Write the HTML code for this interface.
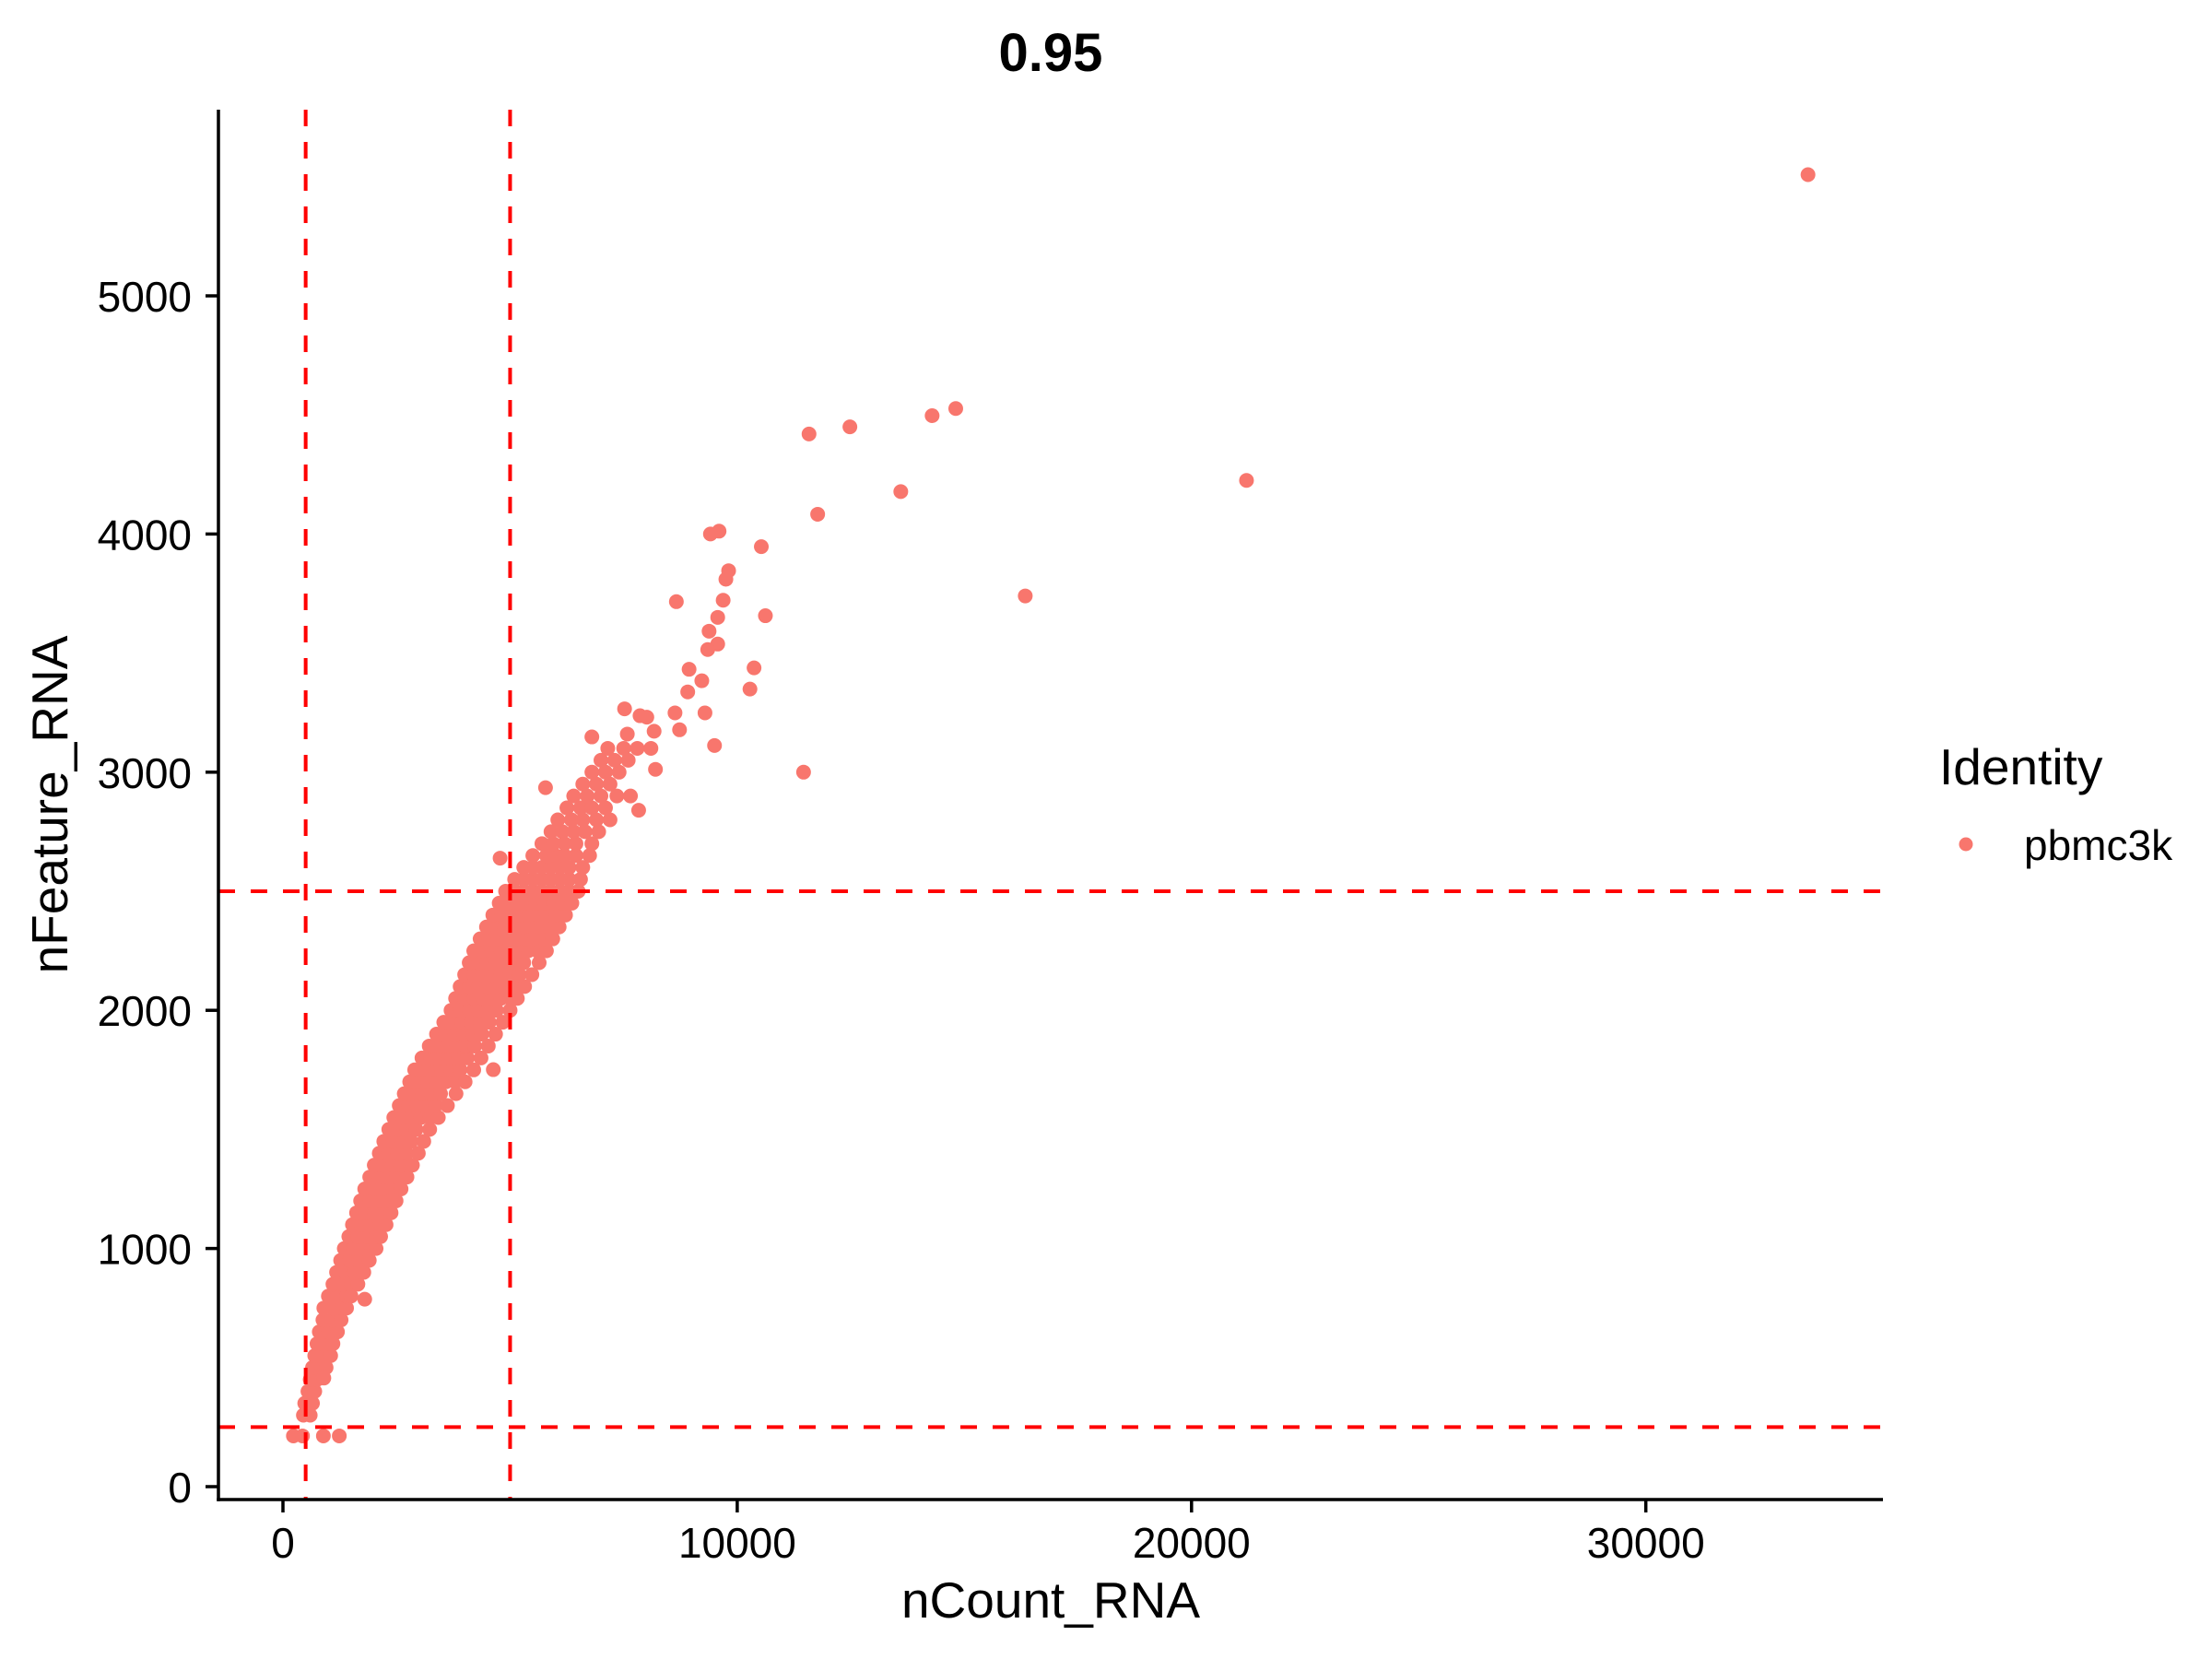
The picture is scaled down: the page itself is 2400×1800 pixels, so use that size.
<!DOCTYPE html>
<html><head><meta charset="utf-8"><style>
html,body{margin:0;padding:0;background:#fff;}
svg{display:block;font-family:"Liberation Sans",Arial,sans-serif;}
</style></head><body>
<svg id="chart" width="2400" height="1800" viewBox="0 0 2400 1800" xmlns="http://www.w3.org/2000/svg">
<rect x="0" y="0" width="2400" height="1800" fill="#fff"/>
<text x="1140" y="77" text-anchor="middle" font-size="58" font-weight="bold">0.95</text>
<g id="points"></g>
<g id="thresholds"></g>
<g id="axes"></g>
<text x="1140" y="1755" text-anchor="middle" font-size="55">nCount_RNA</text>
<text transform="translate(73,873) rotate(-90)" text-anchor="middle" font-size="55">nFeature_RNA</text>
<g>
<text x="2104" y="851" font-size="55">Identity</text>
<circle cx="2133" cy="916" r="7.5" fill="#F8766D"/>
<text x="2196" y="933" font-size="46">pbmc3k</text>
</g>
</svg>
<script>
const xTicks = [0, 10000, 20000, 30000];
const yTicks = [0, 1000, 2000, 3000, 4000, 5000];
const xThresholds = [500, 5000];
const yThresholds = [250, 2500];
const bandFeature = [300,350,400,450,500,550,600,650,700,750,800,850,900,950,1000,1050,1100,1150,1200,1250,1300,1350,1400,1450,1500,1550,1600,1650,1700,1750,1800,1850,1900,1950,2000,2050,2100,2150,2200,2250,2300,2350,2400,2450,2500,2550,2600,2650,2700,2750,2800,2850,2900,2950,3000,3050,3100];
const bandCounts = [
[450,600],[480,650],[550,700],[600,750],[650,850,950],[700,900,1050],[750,950,1100],[800,1000,1200],[880,1080,1280],
[900,1100,1300,1400],[1000,1200,1400,1500],[1100,1300,1500,1650],[1180,1380,1580,1780],[1270,1470,1670,1900],
[1350,1550,1750,1950,2050],[1450,1650,1850,2050,2150],[1530,1730,1930,2130,2270],[1620,1820,2020,2220,2380],
[1710,1910,2110,2310,2490],[1800,2000,2200,2400,2600],[1910,2110,2310,2510,2730],[2010,2210,2410,2610,2850],
[2120,2320,2520,2720,2980],[2220,2420,2620,2820,3100],[2330,2530,2730,2930,3230],[2440,2640,2840,3040,3240,3420],
[2560,2760,2960,3160,3360,3620],[2670,2870,3070,3270,3470,3810],[2790,2990,3190,3390,3590,3790,4010],
[2900,3100,3300,3500,3700,3900,4200],[3060,3260,3460,3660,3860,4060,4360],[3220,3420,3620,3820,4020,4220,4520],
[3380,3580,3780,3980,4180,4380,4680],[3540,3740,3940,4140,4340,4540,4840],[3700,3900,4100,4300,4500,4700,5000],
[3800,4000,4200,4400,4600,4800,5000,5160],[3900,4100,4300,4500,4700,4900,5100,5320],[4000,4200,4400,4600,4800,5000,5200,5480],
[4100,4300,4500,4700,4900,5100,5300,5640],[4200,4400,4600,4800,5000,5200,5400,5600,5800],
[4340,4540,4740,4940,5140,5340,5540,5740,5940],[4480,4680,4880,5080,5280,5480,5680,5880,6080],
[4620,4820,5020,5220,5420,5620,5820,6020,6220],[4760,4960,5160,5360,5560,5760,5960,6160,6360],
[4900,5100,5300,5500,5700,5900,6100,6300,6500],[5100,5300,5500,5700,5900,6100,6300,6550],
[5300,5500,5700,5900,6100,6300,6600],[5500,5800,6000,6200,6450,6750],[5700,5950,6200,6450,6800],
[5900,6150,6400,6650,6950],[6050,6350,6600,6900,7200],[6250,6550,6800,7100],[6400,6700,7000,7350],
[6600,6900,7200],[6800,7100,7400],[7000,7300,7600],[7150,7500,7800]
];
const outlierCounts = [33570,14810,14290,12480,11580,21210,13600,11770,10530,9600,9410,16340,10620,9750,9810,9690,9570,8660,9380,9570,9350,10370,10280,9500,11460,8940,8910,9220,9290,8630,8730,8170,7520,7580,8200,6800,7860,8010,4630,1800,900,230,430,890,1240,5780,7830,4780,7650,8100];
const outlierFeatures = [5509,4527,4497,4450,4420,4225,4178,4083,3947,4012,4000,3740,3657,3810,3846,3722,3650,3716,3592,3538,3515,3438,3349,3112,3000,3432,3337,3384,3249,3249,3178,3172,3266,3160,3012,3148,3237,3231,1751,787,456,213,213,213,213,2935,2840,2639,2900,3100];

const NS = 'http://www.w3.org/2000/svg';
const X0 = 307, XS = 0.04929;
const Y0 = 1613, YS = 0.2584;
const xPos = v => X0 + v * XS;
const yPos = v => Y0 - v * YS;
const plotLeft = 237, plotRight = 2043, plotTop = 119, plotBottom = 1627;

const pts = document.getElementById('points');
function addPoint(c, f) {
  const el = document.createElementNS(NS, 'circle');
  el.setAttribute('cx', xPos(c));
  el.setAttribute('cy', yPos(f));
  el.setAttribute('r', 8);
  el.setAttribute('fill', '#F8766D');
  
  
  pts.appendChild(el);
}
bandFeature.forEach((f, i) => bandCounts[i].forEach(c => addPoint(c, f)));
outlierCounts.forEach((c, i) => addPoint(c, outlierFeatures[i]));

const th = document.getElementById('thresholds');
xThresholds.forEach(v => {
  const el = document.createElementNS(NS, 'line');
  el.setAttribute('x1', xPos(v)); el.setAttribute('x2', xPos(v));
  el.setAttribute('y1', plotTop); el.setAttribute('y2', plotBottom);
  el.setAttribute('stroke', '#FF0000'); el.setAttribute('stroke-width', 4);
  el.setAttribute('stroke-dasharray', '18 17');
  
  
  th.appendChild(el);
});
yThresholds.forEach(v => {
  const el = document.createElementNS(NS, 'line');
  el.setAttribute('x1', plotLeft); el.setAttribute('x2', plotRight);
  el.setAttribute('y1', yPos(v)); el.setAttribute('y2', yPos(v));
  el.setAttribute('stroke', '#FF0000'); el.setAttribute('stroke-width', 4);
  el.setAttribute('stroke-dasharray', '18 17');
  
  
  th.appendChild(el);
});

const ax = document.getElementById('axes');
function drawLine(x1, y1, x2, y2, name) {
  const el = document.createElementNS(NS, 'line');
  el.setAttribute('x1', x1); el.setAttribute('y1', y1);
  el.setAttribute('x2', x2); el.setAttribute('y2', y2);
  el.setAttribute('stroke', '#000'); el.setAttribute('stroke-width', 3.5);
  
  
  ax.appendChild(el);
}
function drawText(x, y, s, anchor, name) {
  const el = document.createElementNS(NS, 'text');
  el.setAttribute('x', x); el.setAttribute('y', y);
  el.setAttribute('text-anchor', anchor);
  el.setAttribute('font-size', 46);
  el.textContent = s;
  
  
  ax.appendChild(el);
}
drawLine(plotLeft, plotTop, plotLeft, plotBottom + 1.75, 'y-axis-line');
drawLine(plotLeft - 1.75, plotBottom, plotRight, plotBottom, 'x-axis-line');
xTicks.forEach(v => {
  drawLine(xPos(v), plotBottom, xPos(v), plotBottom + 14, 'x-tick');
  drawText(xPos(v), 1690, String(v), 'middle', 'x-tick-label');
});
yTicks.forEach(v => {
  drawLine(plotLeft - 14, yPos(v), plotLeft, yPos(v), 'y-tick');
  drawText(208, yPos(v) + 17, String(v), 'end', 'y-tick-label');
});
</script>
</body></html>
